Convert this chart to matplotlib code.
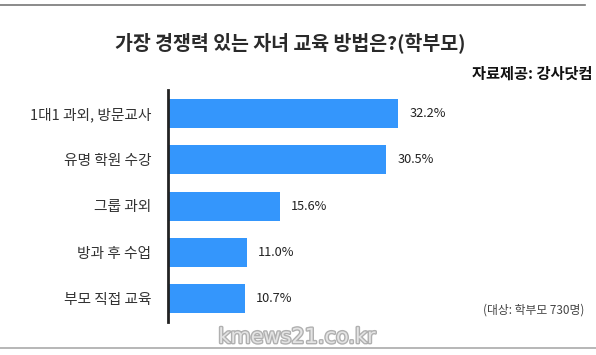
import matplotlib.pyplot as plt
import matplotlib.patheffects as pe

plt.rcParams['font.family'] = ['Noto Sans CJK KR', 'DejaVu Sans']

# Data
categories = ['1대1 과외, 방문교사', '유명 학원 수강', '그룹 과외', '방과 후 수업', '부모 직접 교육']
values = [32.2, 30.5, 15.6, 11.0, 10.7]
value_labels = ['32.2%', '30.5%', '15.6%', '11.0%', '10.7%']

W, H = 596, 355
fig = plt.figure(figsize=(W / 100, H / 100), dpi=100)
fig.patch.set_facecolor('white')

# axes placed in pixel terms
left, right, top, bottom = 168, 454, 90, 322
ax = fig.add_axes([left / W, 1 - bottom / H, (right - left) / W, (bottom - top) / H])

ypos = list(range(len(categories)))
ax.barh(ypos, values, height=0.625, color='#3496fc', zorder=2)
ax.set_xlim(0, 40)
ax.set_ylim(4.5, -0.5)

for y, v, lab in zip(ypos, values, value_labels):
    ax.text(v + 1.6, y, lab, va='center', ha='left', fontsize=9.2, color='#222222')

ax.set_yticks(ypos)
ax.set_yticklabels(categories, fontsize=10.6, color='#333333')
ax.tick_params(axis='y', length=0, pad=12)
ax.set_xticks([])
for s in ['top', 'right', 'bottom']:
    ax.spines[s].set_visible(False)
ax.spines['left'].set_color('#222222')
ax.spines['left'].set_linewidth(2)

# title and notes
fig.text(290 / W, 1 - 43 / H, '가장 경쟁력 있는 자녀 교육 방법은?(학부모)', ha='center', va='center',
         fontsize=14, fontweight='bold', color='#2a2a2a')
fig.text(592 / W, 1 - 74 / H, '자료제공: 강사닷컴', ha='right', va='center',
         fontsize=11, fontweight='bold', color='#111111')
fig.text(584 / W, 1 - 310 / H, '(대상: 학부모 730명)', ha='right', va='center',
         fontsize=8.5, color='#444444')

# frame lines
fig.add_artist(plt.Line2D([0, 585 / W], [1 - 5 / H, 1 - 5 / H], color='#777777', lw=1.2))
fig.add_artist(plt.Line2D([0, 1], [1 - 348 / H, 1 - 348 / H], color='#aaaaaa', lw=1.2))

# watermark
fig.text(297 / W, 1 - 337 / H, 'kmews21.co.kr', ha='center', va='center', fontsize=15,
         color='#e4e4e4', family='DejaVu Sans',
         path_effects=[pe.withStroke(linewidth=2, foreground='#b0b0b0')])

fig.savefig('out.png', dpi=100)
